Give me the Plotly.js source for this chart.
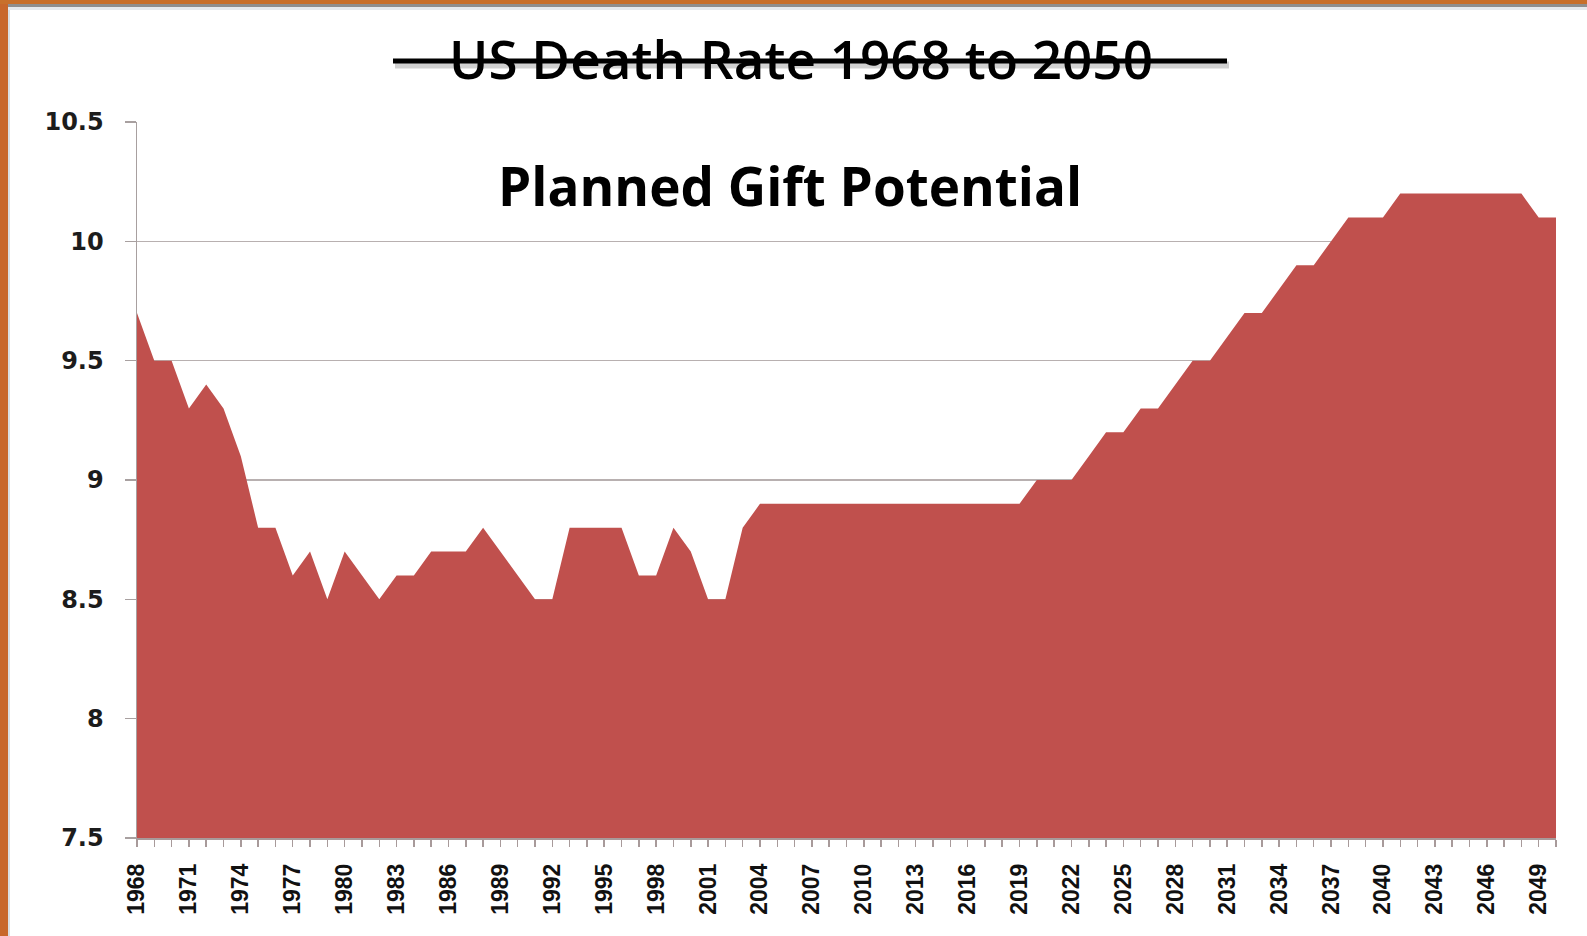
<!DOCTYPE html>
<html>
<head>
<meta charset="utf-8">
<script src="https://cdn.plot.ly/plotly-3.0.1.min.js"></script>
<style>
  html, body { margin: 0; padding: 0; background: #ffffff; }
  #chart { width: 1587px; height: 936px; }
</style>
</head>
<body>
<div id="chart"></div>
<script>
// ---- Data ----
const years = [
  1968, 1969, 1970, 1971, 1972, 1973, 1974, 1975, 1976, 1977,
  1978, 1979, 1980, 1981, 1982, 1983, 1984, 1985, 1986, 1987,
  1988, 1989, 1990, 1991, 1992, 1993, 1994, 1995, 1996, 1997,
  1998, 1999, 2000, 2001, 2002, 2003, 2004, 2005, 2006, 2007,
  2008, 2009, 2010, 2011, 2012, 2013, 2014, 2015, 2016, 2017,
  2018, 2019, 2020, 2021, 2022, 2023, 2024, 2025, 2026, 2027,
  2028, 2029, 2030, 2031, 2032, 2033, 2034, 2035, 2036, 2037,
  2038, 2039, 2040, 2041, 2042, 2043, 2044, 2045, 2046, 2047,
  2048, 2049, 2050
];
const deathRate = [
  9.7, 9.5, 9.5, 9.3, 9.4, 9.3, 9.1, 8.8, 8.8, 8.6,
  8.7, 8.5, 8.7, 8.6, 8.5, 8.6, 8.6, 8.7, 8.7, 8.7,
  8.8, 8.7, 8.6, 8.5, 8.5, 8.8, 8.8, 8.8, 8.8, 8.6,
  8.6, 8.8, 8.7, 8.5, 8.5, 8.8, 8.9, 8.9, 8.9, 8.9,
  8.9, 8.9, 8.9, 8.9, 8.9, 8.9, 8.9, 8.9, 8.9, 8.9,
  8.9, 8.9, 9.0, 9.0, 9.0, 9.1, 9.2, 9.2, 9.3, 9.3,
  9.4, 9.5, 9.5, 9.6, 9.7, 9.7, 9.8, 9.9, 9.9, 10.0,
  10.1, 10.1, 10.1, 10.2, 10.2, 10.2, 10.2, 10.2, 10.2, 10.2,
  10.2, 10.1, 10.1
];
const xTickYears = [
  1968, 1971, 1974, 1977, 1980, 1983, 1986, 1989, 1992, 1995,
  1998, 2001, 2004, 2007, 2010, 2013, 2016, 2019, 2022, 2025,
  2028, 2031, 2034, 2037, 2040, 2043, 2046, 2049
];
const yTickVals = [7.5, 8, 8.5, 9, 9.5, 10, 10.5];
const yTickText = ["7.5", "8", "8.5", "9", "9.5", "10", "10.5"];
const chartTitle = "US Death Rate 1968 to 2050";
const overlayText = "Planned Gift Potential";

// ---- Layout helpers (page pixels -> paper coordinates) ----
const W = 1587, H = 936;
const mL = 137, mR = 31, mT = 122, mB = 98;
const pw = W - mL - mR, ph = H - mT - mB;
const px = v => (v - mL) / pw;
const py = v => (H - mB - v) / ph;

const trace = {
  type: 'scatter',
  mode: 'lines',
  x: years,
  y: deathRate,
  fill: 'tozeroy',
  fillcolor: '#C0504D',
  line: { width: 0, color: '#C0504D' },
  hoverinfo: 'x+y',
  showlegend: false
};

const layout = {
  width: W,
  height: H,
  margin: { l: mL, r: mR, t: mT, b: mB, pad: 0 },
  paper_bgcolor: '#ffffff',
  plot_bgcolor: '#ffffff',
  showlegend: false,
  title: {
    text: chartTitle,
    x: 801 / W,
    xanchor: 'center',
    xref: 'container',
    y: 1 - 60 / H,
    yref: 'container',
    yanchor: 'middle',
    font: { family: 'Open Sans', size: 53, weight: 600, color: '#000000' }
  },
  xaxis: {
    type: 'linear',
    range: [1968, 2050],
    tickmode: 'array',
    tickvals: xTickYears,
    ticktext: xTickYears.map(String),
    tickangle: -90,
    ticks: 'outside',
    ticklen: 7,
    tickwidth: 1.5,
    tickcolor: '#a89a9a',
    ticklabelstandoff: 8,
    showgrid: false,
    zeroline: false,
    showline: true,
    linecolor: '#a89a9a',
    linewidth: 1.5,
    minor: { tickmode: 'linear', tick0: 1968, dtick: 1, ticks: 'outside', ticklen: 7, tickwidth: 1.5, tickcolor: '#a89a9a', showgrid: false },
    tickfont: { family: 'Liberation Sans', size: 23, weight: 'bold', color: '#111111' },
    fixedrange: true
  },
  yaxis: {
    range: [7.5, 10.5],
    tickmode: 'array',
    tickvals: yTickVals,
    ticktext: yTickText,
    ticks: 'outside',
    ticklen: 11,
    tickwidth: 1.5,
    tickcolor: '#a8a0a0',
    ticklabelstandoff: 16,
    showgrid: true,
    gridcolor: '#b8b0b0',
    gridwidth: 1.6,
    zeroline: false,
    showline: true,
    linecolor: '#a8a0a0',
    linewidth: 1.5,
    tickfont: { family: 'DejaVu Sans', size: 24, weight: 'bold', color: '#1c1c1c' },
    fixedrange: true
  },
  annotations: [
    {
      text: overlayText,
      xref: 'paper', yref: 'paper',
      x: px(789.5), y: py(185),
      xanchor: 'center', yanchor: 'middle',
      showarrow: false,
      font: { family: 'Open Sans', size: 53, weight: 'bold', color: '#000000' }
    }
  ],
  shapes: [
    // orange frame (left and top) with thin grey inner lines
    { type: 'rect', xref: 'paper', yref: 'paper', x0: px(0), x1: px(8), y0: py(H), y1: py(0), fillcolor: '#C8672B', line: { width: 0 }, layer: 'above' },
    { type: 'rect', xref: 'paper', yref: 'paper', x0: px(8), x1: px(10), y0: py(H), y1: py(4), fillcolor: '#d9dfe4', line: { width: 0 }, layer: 'above' },
    { type: 'rect', xref: 'paper', yref: 'paper', x0: px(0), x1: px(W), y0: py(4), y1: py(0), fillcolor: '#C8702B', line: { width: 0 }, layer: 'above' },
    { type: 'rect', xref: 'paper', yref: 'paper', x0: px(8), x1: px(W), y0: py(7), y1: py(4), fillcolor: '#8f8f8f', line: { width: 0 }, layer: 'above' },
    { type: 'rect', xref: 'paper', yref: 'paper', x0: px(8), x1: px(W), y0: py(10), y1: py(7), fillcolor: '#e6eaee', line: { width: 0 }, layer: 'above' },
    // strike-through line over the title, with a soft shadow
    { type: 'line', xref: 'paper', yref: 'paper', x0: px(395), x1: px(1229), y0: py(65), y1: py(65), line: { color: 'rgba(0,0,0,0.18)', width: 7 }, layer: 'above' },
    { type: 'line', xref: 'paper', yref: 'paper', x0: px(393), x1: px(1227), y0: py(61), y1: py(61), line: { color: '#000000', width: 5 }, layer: 'above' }
  ]
};

Plotly.newPlot('chart', [trace], layout, { displayModeBar: false, staticPlot: true });
</script>
</body>
</html>
